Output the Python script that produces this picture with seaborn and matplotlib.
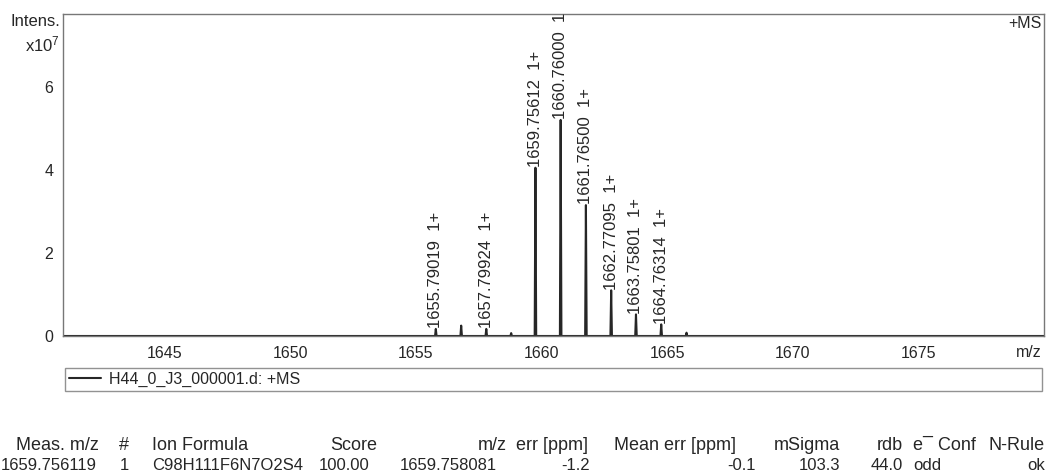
import numpy as np
import pandas as pd
import matplotlib
matplotlib.use("Agg")
import matplotlib.pyplot as plt
import seaborn as sns

# Centroid peaks of the +MS spectrum (intensity in units of 1e7)
peak_mz = [1655.79019, 1656.80, 1657.79924, 1658.79, 1659.75612, 1660.76000,
           1661.76500, 1662.77095, 1663.75801, 1664.76314, 1665.77]
peak_int = [0.17, 0.25, 0.17, 0.07, 4.05, 5.20, 3.15, 1.10, 0.52, 0.28, 0.08]
peak_label = [True, False, True, False, True, True, True, True, True, True, False]
charge = "1+"

mz_range = (1640.95, 1680.0)
x_ticks = [1645, 1650, 1655, 1660, 1665, 1670, 1675]
y_ticks = [0, 2, 4, 6]
y_max = 7.75

trace_name = "H44_0_J3_000001.d: +MS"

# Compound list table
table_header = ["Meas. m/z", "#", "Ion Formula", "Score", "m/z", "err [ppm]",
                "Mean err [ppm]", "mSigma", "rdb", "e\u00af Conf", "N-Rule"]
table_row = ["1659.756119", "1", "C98H111F6N7O2S4", "100.00", "1659.758081",
             "-1.2", "-0.1", "103.3", "44.0", "odd", "ok"]

sns.set_style("white")
plt.rcParams["font.family"] = ["Liberation Sans", "DejaVu Sans"]
plt.rcParams["mathtext.fontset"] = "custom"
plt.rcParams["mathtext.rm"] = "Liberation Sans"
plt.rcParams["mathtext.it"] = "Liberation Sans"

W, H = 1049, 472
fig = plt.figure(figsize=(W / 100, H / 100), dpi=100)
ax = fig.add_axes([63 / W, 1 - 336 / H, (1044 - 63) / W, (336 - 14) / H])

# Profile trace: narrow peaks on a flat baseline
half_w = 0.03
xs, ys = [mz_range[0]], [0.0]
for m, h in zip(peak_mz, peak_int):
    xs += [m - half_w, m, m + half_w]
    ys += [0.0, h, 0.0]
xs.append(mz_range[1])
ys.append(0.0)
profile = pd.DataFrame({"m/z": xs, "Intens.": ys, "trace": trace_name})

ink = "#262626"
sns.lineplot(data=profile, x="m/z", y="Intens.", hue="trace", palette=[ink],
             sort=False, estimator=None, linewidth=1.5, ax=ax)

# Peak annotations
for m, h, lab in zip(peak_mz, peak_int, peak_label):
    if lab:
        ax.annotate(f"{m:.5f}  {charge}", xy=(m, h), xytext=(0, 0.5),
                    textcoords="offset points", rotation=90, ha="center",
                    va="bottom", fontsize=12, color=ink, annotation_clip=False,
                    clip_on=True)

ax.set_xlim(*mz_range)
ax.set_ylim(0, y_max)
ax.set_xticks(x_ticks)
ax.set_xticks(np.arange(1641, 1680), minor=True)
ax.set_yticks(y_ticks)
ax.set_yticks([1, 3, 5, 7], minor=True)
ax.set_xlabel("")
ax.set_ylabel("")
ax.tick_params(axis="both", which="major", direction="out", length=4,
               width=0.9, color="#666", labelsize=11.5, labelcolor=ink, pad=3)
ax.tick_params(axis="both", which="minor", direction="out", length=3,
               width=0.8, color="#666")
for s in ax.spines.values():
    s.set_color("#777")
    s.set_linewidth(1.0)

ax.text(0.998, 0.995, "+MS", transform=ax.transAxes, ha="right", va="top",
        fontsize=11.5, color=ink)
ax.text(0.998, -0.05, "m/z", transform=ax.transAxes, ha="right", va="center",
        fontsize=11.5, color=ink)
fig.text(60 / W, 1 - 22 / H, "Intens.", ha="right", va="center", fontsize=12,
         color=ink)
fig.text(60 / W, 1 - 44 / H, r"x10$^{7}$", ha="right", va="center",
         fontsize=12, color=ink)

leg = ax.legend(loc="upper left", bbox_to_anchor=(0.002, -0.099, 0.996, 0),
                mode="expand", frameon=True, fancybox=False, fontsize=11.5,
                handlelength=2.0, handletextpad=0.5, borderpad=0.25,
                borderaxespad=0)
leg.get_frame().set_edgecolor("#777")
leg.get_frame().set_linewidth(1.0)
for t in leg.get_texts():
    t.set_color(ink)

# Table below the plot
col_x = [99, 124, 152, 377, 507, 588, 675, 840, 903, 913, 1045]
col_ha = ["right", "center", "left", "right", "right", "right", "center",
          "right", "right", "left", "right"]
row_x = [97, 124, 152, 370, 497, 590, 756, 840, 903, 913, 1045]
row_ha = ["right", "center", "left", "right", "right", "right", "right",
          "right", "right", "left", "right"]
for x, ha, txt in zip(col_x, col_ha, table_header):
    fig.text(x / W, 1 - 445 / H, txt, ha=ha, va="center", fontsize=13,
             color=ink)
for x, ha, txt in zip(row_x, row_ha, table_row):
    fig.text(x / W, 1 - 465 / H, txt, ha=ha, va="center", fontsize=12,
             color=ink)

fig.savefig("out.png", dpi=100, facecolor="white")
